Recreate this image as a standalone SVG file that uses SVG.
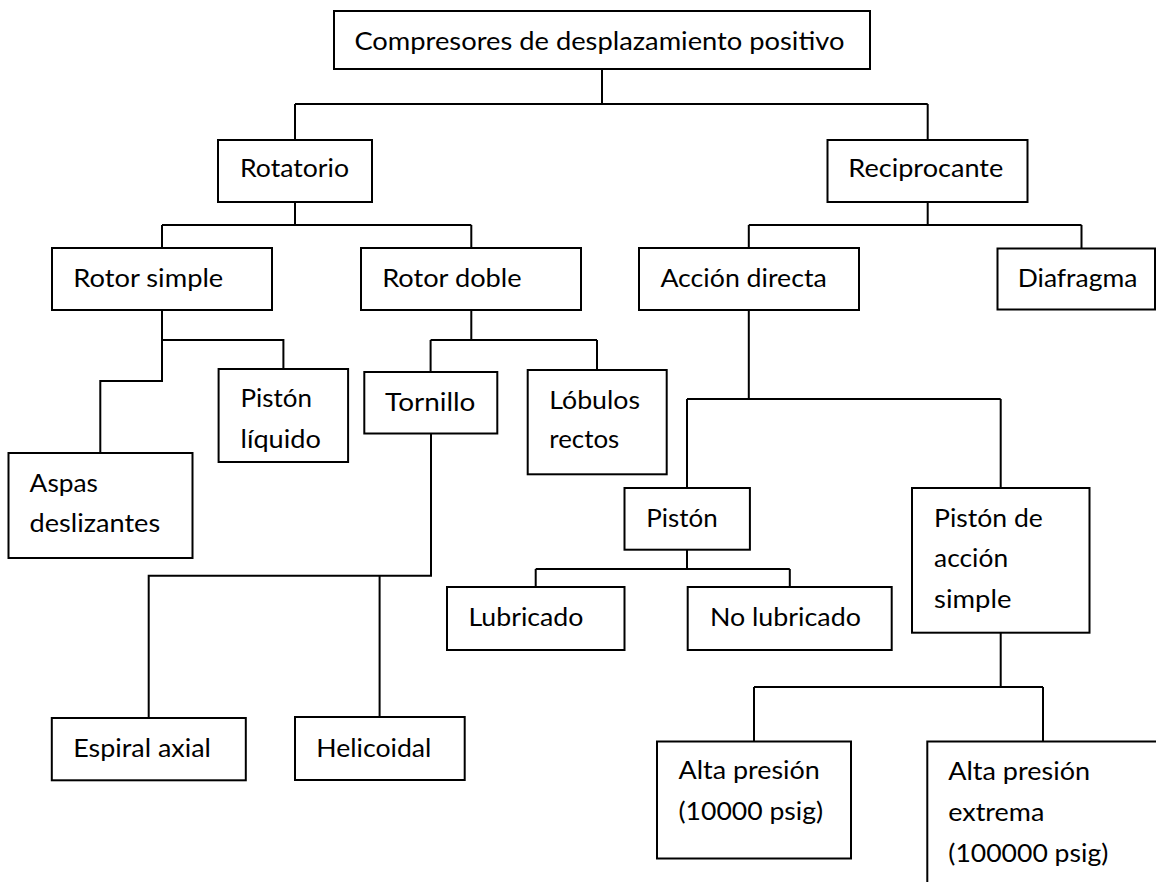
<svg xmlns="http://www.w3.org/2000/svg" width="1156" height="882" viewBox="0 0 1156 882">
<style>
.b{fill:#fff;stroke:#000;stroke-width:2}
.c{fill:none;stroke:#000;stroke-width:2}
text{font-family:Lato,"Open Sans","Liberation Sans",sans-serif;font-size:25px;fill:#000}
</style>
<rect width="1156" height="882" fill="#fff"/>
<g id="connectors" class="c">
<path d="M602 69V104M295 104H927.7M295 104V140M927.7 104V140"/>
<path d="M295 202V225M162 225H471.3M162 225V248M471.3 225V248"/>
<path d="M927.7 202V225M748.8 225H1081.5M748.8 225V248M1081.5 225V248"/>
<path d="M162 310V381H100.3V453M162 340H283.4V369"/>
<path d="M471.3 310V340M430.6 340H597M430.6 340V372M597 340V370"/>
<path d="M431 433.5V575.7H148.7V718M379.6 575.7V717"/>
<path d="M748.8 310V399M687 399H1000.7M687 399V488M1000.7 399V488"/>
<path d="M687 550V569M535.7 569H789.8M535.7 569V587M789.8 569V587"/>
<path d="M1000.7 633V687M754 687H1043M754 687V741.5M1043 687V741.5"/>
</g>
<g id="root"><rect class="b" x="334" y="11" width="536" height="58"/><text x="354.4" y="50" textLength="490" lengthAdjust="spacingAndGlyphs">Compresores de desplazamiento positivo</text></g>
<g id="rotatorio"><rect class="b" x="218" y="140" width="154" height="62"/><text x="240" y="177" textLength="109" lengthAdjust="spacingAndGlyphs">Rotatorio</text></g>
<g id="reciprocante"><rect class="b" x="827.5" y="140" width="200" height="62"/><text x="848.3" y="177" textLength="155" lengthAdjust="spacingAndGlyphs">Reciprocante</text></g>
<g id="rotor-simple"><rect class="b" x="52" y="248" width="220" height="62"/><text x="73.3" y="287" textLength="150" lengthAdjust="spacingAndGlyphs">Rotor simple</text></g>
<g id="rotor-doble"><rect class="b" x="361" y="248" width="220" height="62"/><text x="382.2" y="287" textLength="139.4" lengthAdjust="spacingAndGlyphs">Rotor doble</text></g>
<g id="accion-directa"><rect class="b" x="639" y="248" width="220" height="62"/><text x="660.4" y="287" textLength="166.4" lengthAdjust="spacingAndGlyphs">Acción directa</text></g>
<g id="diafragma"><rect class="b" x="997.5" y="248.5" width="157.5" height="61"/><text x="1017.7" y="287" textLength="119.6" lengthAdjust="spacingAndGlyphs">Diafragma</text></g>
<g id="piston-liquido"><rect class="b" x="218.6" y="369" width="129.5" height="93"/><text x="240.5" y="407.3" textLength="71.4" lengthAdjust="spacingAndGlyphs">Pistón</text><text x="240.5" y="448.3" textLength="80.3" lengthAdjust="spacingAndGlyphs">líquido</text></g>
<g id="aspas"><rect class="b" x="8.5" y="453" width="184" height="105"/><text x="29.6" y="491.7" textLength="68.4" lengthAdjust="spacingAndGlyphs">Aspas</text><text x="29.6" y="532.3" textLength="130.6" lengthAdjust="spacingAndGlyphs">deslizantes</text></g>
<g id="tornillo"><rect class="b" x="364.3" y="372" width="133" height="61.5"/><text x="385.1" y="411" textLength="90.3" lengthAdjust="spacingAndGlyphs">Tornillo</text></g>
<g id="lobulos"><rect class="b" x="527.7" y="370" width="139" height="104.3"/><text x="549.3" y="409" textLength="90.7" lengthAdjust="spacingAndGlyphs">Lóbulos</text><text x="549.3" y="448.3" textLength="70" lengthAdjust="spacingAndGlyphs">rectos</text></g>
<g id="espiral"><rect class="b" x="51.8" y="718" width="194" height="62.3"/><text x="73.3" y="757" textLength="137.6" lengthAdjust="spacingAndGlyphs">Espiral axial</text></g>
<g id="helicoidal"><rect class="b" x="295" y="717" width="169.7" height="63"/><text x="316.3" y="757" textLength="115.1" lengthAdjust="spacingAndGlyphs">Helicoidal</text></g>
<g id="piston"><rect class="b" x="624.5" y="488" width="125.4" height="61.7"/><text x="646.3" y="526.7" textLength="71.4" lengthAdjust="spacingAndGlyphs">Pistón</text></g>
<g id="piston-accion-simple"><rect class="b" x="912" y="488" width="177.5" height="144.7"/><text x="934.1" y="526.7" textLength="108.8" lengthAdjust="spacingAndGlyphs">Pistón de</text><text x="934.1" y="566.7" textLength="74" lengthAdjust="spacingAndGlyphs">acción</text><text x="934.1" y="608.3" textLength="77.3" lengthAdjust="spacingAndGlyphs">simple</text></g>
<g id="lubricado"><rect class="b" x="447" y="587" width="177.5" height="63"/><text x="468.4" y="626" textLength="115" lengthAdjust="spacingAndGlyphs">Lubricado</text></g>
<g id="no-lubricado"><rect class="b" x="687.7" y="587" width="204" height="63"/><text x="709.9" y="626" textLength="151" lengthAdjust="spacingAndGlyphs">No lubricado</text></g>
<g id="alta-presion"><rect class="b" x="657" y="741.5" width="194" height="117"/><text x="678.5" y="779.3" textLength="141.3" lengthAdjust="spacingAndGlyphs">Alta presión</text><text x="678.5" y="820" textLength="144.6" lengthAdjust="spacingAndGlyphs">(10000 psig)</text></g>
<g id="alta-presion-extrema"><path class="b" d="M927.3 883V741.5H1157"/><text x="948.3" y="780" textLength="141.7" lengthAdjust="spacingAndGlyphs">Alta presión</text><text x="948.3" y="820.5" textLength="96" lengthAdjust="spacingAndGlyphs">extrema</text><text x="948.3" y="861.5" textLength="160" lengthAdjust="spacingAndGlyphs">(100000 psig)</text></g>
</svg>
